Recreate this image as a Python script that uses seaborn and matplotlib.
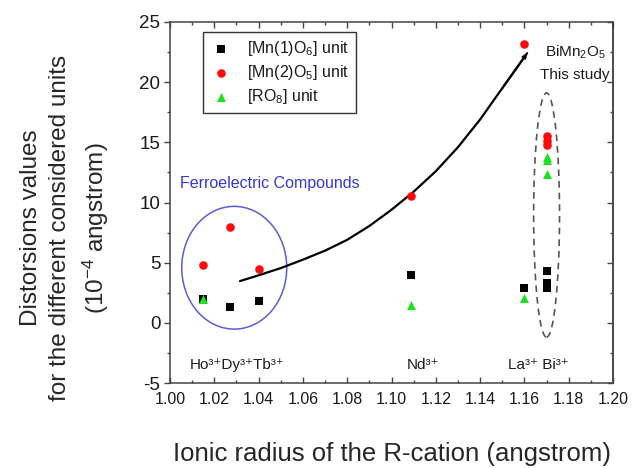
import numpy as np
import pandas as pd
import seaborn as sns
import matplotlib
matplotlib.use("Agg")
import matplotlib.pyplot as plt
from matplotlib.patches import Ellipse
from matplotlib.ticker import MultipleLocator

# ---------------- data ----------------
mn1_radius = [1.015, 1.027, 1.040, 1.109, 1.160, 1.170, 1.170, 1.170]
mn1_values = [2.0, 1.3, 1.8, 4.0, 2.9, 4.3, 3.3, 2.9]

mn2_radius = [1.015, 1.027, 1.040, 1.109, 1.160, 1.170, 1.170, 1.170]
mn2_values = [4.8, 8.0, 4.5, 10.5, 23.2, 15.5, 15.1, 14.8]

ro8_radius = [1.015, 1.109, 1.160, 1.170, 1.170, 1.170]
ro8_values = [2.0, 1.5, 2.1, 13.8, 13.5, 12.4]

trend_radius = [1.0316, 1.04, 1.05, 1.06, 1.07, 1.08, 1.09, 1.10, 1.11, 1.12,
                1.13, 1.14, 1.15, 1.1612]
trend_values = [3.47, 3.95, 4.55, 5.25, 6.00, 6.90, 8.05, 9.40, 10.90, 12.60,
                14.60, 16.90, 19.50, 22.40]

series_labels = ["[Mn(1)O$_6$] unit", "[Mn(2)O$_5$] unit", "[RO$_8$] unit"]
cation_labels = ["Ho³⁺Dy³⁺Tb³⁺", "Nd³⁺", "La³⁺ Bi³⁺"]
x_ticks = [1.00, 1.02, 1.04, 1.06, 1.08, 1.10, 1.12, 1.14, 1.16, 1.18, 1.20]
y_ticks = [-5, 0, 5, 10, 15, 20, 25]

# ---------------- style ----------------
sns.set_theme(style="ticks")
plt.rcParams["font.family"] = ["Liberation Sans", "DejaVu Sans"]
plt.rcParams["mathtext.fontset"] = "custom"
plt.rcParams["mathtext.rm"] = "Liberation Sans"
plt.rcParams["mathtext.it"] = "Liberation Sans:italic"
plt.rcParams["mathtext.bf"] = "Liberation Sans:bold"
plt.rcParams["axes.unicode_minus"] = False
plt.rcParams["text.color"] = "#1a1a1a"

fig = plt.figure(figsize=(6.32, 4.68), dpi=100)
ax = fig.add_axes([0.269, 0.1816, 0.701, 0.7714])

df1 = pd.DataFrame({"radius": mn1_radius, "value": mn1_values})
df2 = pd.DataFrame({"radius": mn2_radius, "value": mn2_values})
df3 = pd.DataFrame({"radius": ro8_radius, "value": ro8_values})
dft = pd.DataFrame({"radius": trend_radius, "value": trend_values})

# trend curve
sns.lineplot(data=dft, x="radius", y="value", color="black", linewidth=1.6,
             sort=False, estimator=None, ax=ax, zorder=2)
ax.annotate("", xy=(trend_radius[-1], trend_values[-1]),
            xytext=(trend_radius[-2], trend_values[-2]),
            arrowprops=dict(arrowstyle="-|>", color="black", lw=1.4,
                            mutation_scale=6, shrinkA=0, shrinkB=0), zorder=2)

sns.scatterplot(data=df1, x="radius", y="value", marker="s", color="black",
                s=30, linewidth=0, label=series_labels[0], ax=ax, zorder=3)
sns.scatterplot(data=df2, x="radius", y="value", marker="o", color="#ff0a0a",
                s=38, linewidth=0, label=series_labels[1], ax=ax, zorder=3)
sns.scatterplot(data=df3, x="radius", y="value", marker="^", color="#1fe01f",
                s=42, linewidth=0, label=series_labels[2], ax=ax, zorder=4)

# ellipses
ax.add_patch(Ellipse((1.029, 4.58), 0.0474, 10.2, fill=False,
                     edgecolor="#5c5cd6", lw=1.1, zorder=1))
ax.add_patch(Ellipse((1.170, 8.96), 0.0117, 20.3, fill=False,
                     edgecolor="#555555", lw=1.2, ls=(0, (4, 3)), zorder=1))

# texts
ax.text(1.0045, 11.62, "Ferroelectric Compounds", color="#3636d0",
        fontsize=11.5, va="center", ha="left")
ax.text(1.1828, 22.5, "BiMn$_2$O$_5$", fontsize=11, ha="center", va="center")
ax.text(1.1828, 20.6, "This study", fontsize=11, ha="center", va="center")
lab_font = ["Liberation Sans", "DejaVu Sans"]
ax.text(1.009, -3.8, cation_labels[0], fontsize=11, ha="left", va="baseline", family=lab_font)
ax.text(1.1069, -3.8, cation_labels[1], fontsize=11, ha="left", va="baseline", family=lab_font)
ax.text(1.1527, -3.8, cation_labels[2], fontsize=11, ha="left", va="baseline", family=lab_font)

# axes
ax.set_xlim(1.00, 1.20)
ax.set_ylim(-5, 25)
ax.set_xticks(x_ticks)
ax.set_xticklabels([f"{t:.2f}" for t in x_ticks])
ax.set_yticks(y_ticks)
ax.xaxis.set_minor_locator(MultipleLocator(0.01))
ax.yaxis.set_minor_locator(MultipleLocator(2.5))

spine_col = "#444444"
for sp in ax.spines.values():
    sp.set_visible(True)
    sp.set_color(spine_col)
    sp.set_linewidth(1.1)

ax.tick_params(axis="x", which="both", direction="in", top=True, bottom=True,
               colors=spine_col, labelcolor="#1a1a1a", labelsize=11.5, pad=6.5)
ax.tick_params(axis="x", which="major", length=4, width=1)
ax.tick_params(axis="x", which="minor", length=2.5, width=1)
ax.tick_params(axis="y", which="both", direction="out", left=True, right=False,
               colors=spine_col, labelcolor="#1a1a1a", labelsize=13.5, pad=3)
ax.tick_params(axis="y", which="major", length=4, width=1)
ax.tick_params(axis="y", which="minor", length=2.5, width=1)

sec = ax.secondary_yaxis("right")
sec.set_yticks(y_ticks)
sec.yaxis.set_minor_locator(MultipleLocator(2.5))
sec.tick_params(axis="y", which="both", direction="in", colors=spine_col, labelright=False)
sec.tick_params(axis="y", which="major", length=4, width=1)
sec.tick_params(axis="y", which="minor", length=2.5, width=1)
sec.spines["right"].set_color(spine_col)
sec.spines["right"].set_linewidth(1.1)

ax.set_xlabel("Ionic radius of the R-cation (angstrom)", fontsize=18.5)
ax.xaxis.set_label_coords(0.5, -0.163)
ax.set_ylabel("Distorsions values\nfor the different considered units\n(10$^{-4}$ angstrom)",
              fontsize=17.5, linespacing=1.42)
ax.yaxis.set_label_coords(-0.133, 0.43)

handles, labels = ax.get_legend_handles_labels()
leg = ax.legend(handles, labels, loc="upper left", bbox_to_anchor=(0.0745, 0.972),
                borderaxespad=0, fontsize=11.5, frameon=True, fancybox=False,
                edgecolor="#333333", framealpha=1, labelspacing=0.3,
                handlelength=1.4, handletextpad=0.9, borderpad=0.45)
leg.get_frame().set_linewidth(1.0)

fig.savefig("out.png", dpi=100)
